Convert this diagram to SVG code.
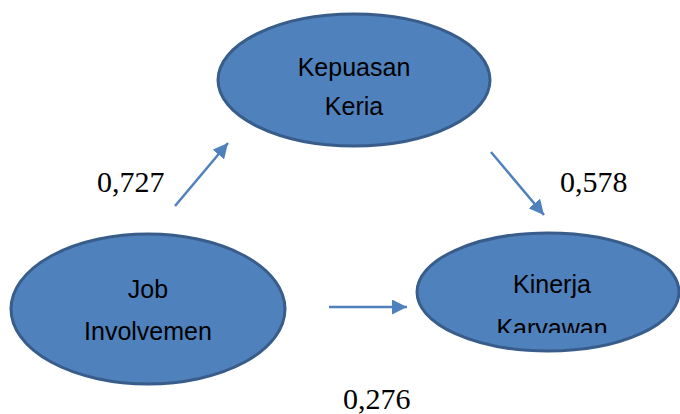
<svg xmlns="http://www.w3.org/2000/svg" width="680" height="414" viewBox="0 0 680 414">
<style>
.node{fill:#4F81BD;stroke:#385D8A;stroke-width:3}
.lbl{font-family:"Liberation Sans",Arial,sans-serif;font-size:25px;fill:#000;text-anchor:middle}
.num{font-family:"Liberation Serif","Times New Roman",serif;font-size:30px;fill:#000}
.edge{stroke:#4F81BD;stroke-width:2.5;fill:none}
</style>
<defs>
<marker id="ah" viewBox="0 0 10 10" refX="10" refY="5" markerWidth="6" markerHeight="6" markerUnits="strokeWidth" orient="auto">
<path d="M0,0 L10,5 L0,10 z" fill="#4F81BD"/>
</marker>
<clipPath id="kclip"><rect x="400" y="200" width="280" height="133"/></clipPath>
</defs>
<rect width="680" height="414" fill="#fff"/>
<g id="kepuasan">
<ellipse class="node" cx="354" cy="80" rx="136" ry="66"/>
<text class="lbl" x="354" y="76">Kepuasan</text>
<text class="lbl" x="354" y="115">Keria</text>
</g>
<g id="job">
<ellipse class="node" cx="148" cy="309" rx="137" ry="75"/>
<text class="lbl" x="148" y="298">Job</text>
<text class="lbl" x="148" y="340">Involvemen</text>
</g>
<g id="kinerja">
<ellipse class="node" cx="548" cy="292" rx="131" ry="59"/>
<text class="lbl" x="552" y="293">Kinerja</text>
<text class="lbl" x="552" y="337" clip-path="url(#kclip)">Karyawan</text>
</g>
<g id="connectors">
<line class="edge" x1="175" y1="206" x2="228" y2="143" marker-end="url(#ah)"/>
<line class="edge" x1="491" y1="152" x2="544" y2="215" marker-end="url(#ah)"/>
<line class="edge" x1="329" y1="307" x2="407" y2="307" marker-end="url(#ah)"/>
</g>
<g id="labels">
<text class="num" x="97" y="192">0,727</text>
<text class="num" x="560" y="192">0,578</text>
<text class="num" x="343" y="409">0,276</text>
</g>
</svg>
